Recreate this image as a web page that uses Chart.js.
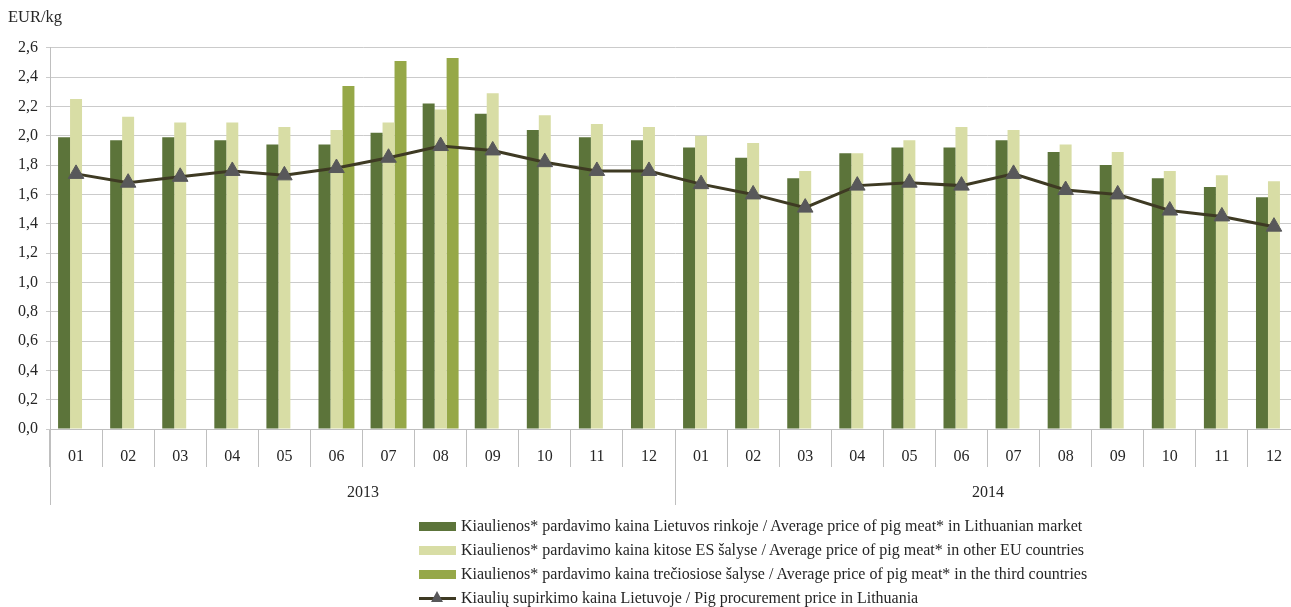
<!DOCTYPE html>
<html>
<head>
<meta charset="utf-8">
<script src="https://cdn.jsdelivr.net/npm/chart.js@4.4.1/dist/chart.umd.min.js"></script>
<style>
  body { margin: 0; overflow: hidden; background: #fff; }
  #wrap { position: relative; width: 1320px; height: 607px; }
  #legenda { position: absolute; left: 419px; top: 514px; font-family: "Liberation Serif", serif; font-size: 16px; color: #262626; }
  .item { height: 24px; line-height: 24px; white-space: nowrap; display: flex; align-items: center; }
  .box { display: inline-block; width: 37px; height: 9px; margin-right: 5px; }
  .lineIcon { position: relative; display: inline-block; width: 37px; height: 3px; margin-right: 5px; background: #3e3a23; }
  .lineIcon:after { content: ''; position: absolute; left: 12px; top: -6px; border-left: 6px solid transparent; border-right: 6px solid transparent; border-bottom: 11px solid #58585a; }
</style>
</head>
<body>
<div id="wrap">
  <canvas id="kainos"></canvas>
  <div id="legenda"></div>
</div>
<script>
const months = ['01', '02', '03', '04', '05', '06', '07', '08', '09', '10', '11', '12',
  '01', '02', '03', '04', '05', '06', '07', '08', '09', '10', '11', '12'];
const years = ['2013', '2014'];

const priceLithuania = [1.99, 1.97, 1.99, 1.97, 1.94, 1.94, 2.02, 2.22, 2.15, 2.04, 1.99, 1.97,
  1.92, 1.85, 1.71, 1.88, 1.92, 1.92, 1.97, 1.89, 1.80, 1.71, 1.65, 1.58];
const priceOtherEU = [2.25, 2.13, 2.09, 2.09, 2.06, 2.04, 2.09, 2.18, 2.29, 2.14, 2.08, 2.06,
  2.00, 1.95, 1.76, 1.88, 1.97, 2.06, 2.04, 1.94, 1.89, 1.76, 1.73, 1.69];
const priceThird = [null, null, null, null, null, 2.34, 2.51, 2.53, null, null, null, null,
  null, null, null, null, null, null, null, null, null, null, null, null];
const procurement = [1.74, 1.68, 1.72, 1.76, 1.73, 1.78, 1.85, 1.93, 1.90, 1.82, 1.76, 1.76,
  1.67, 1.60, 1.51, 1.66, 1.68, 1.66, 1.74, 1.63, 1.60, 1.49, 1.45, 1.38];

const seriesNames = [
  'Kiaulienos* pardavimo kaina Lietuvos rinkoje / Average price of pig meat* in Lithuanian market',
  'Kiaulienos* pardavimo kaina kitose ES šalyse / Average price of pig meat* in other EU countries',
  'Kiaulienos* pardavimo kaina trečiosiose šalyse / Average price of pig meat* in the third countries',
  'Kiaulių supirkimo kaina Lietuvoje / Pig procurement price in Lithuania'
];
const seriesColors = ['#5c743a', '#d8dda5', '#96a848', '#3e3a23'];

const fonte = { family: '"Liberation Serif", serif', size: 16 };
const cinza = '#bfbfbf';

// second level of the x axis: years with long separators
const yearAxis = {
  id: 'yearAxis',
  afterDraw(chart) {
    const x = chart.scales.x;
    const ctx = chart.ctx;
    const bottom = chart.chartArea.bottom;
    const half = (x.getPixelForValue(1) - x.getPixelForValue(0)) / 2;
    const perYear = months.length / years.length;
    ctx.save();
    ctx.strokeStyle = cinza;
    ctx.lineWidth = 1;
    ctx.fillStyle = '#262626';
    ctx.font = '16px "Liberation Serif", serif';
    ctx.textAlign = 'center';
    ctx.textBaseline = 'middle';
    years.forEach((ano, i) => {
      const start = Math.round(x.getPixelForValue(i * perYear) - half) + 0.5;
      const end = Math.round(x.getPixelForValue((i + 1) * perYear - 1) + half) + 0.5;
      [start, end].forEach(px => {
        ctx.beginPath();
        ctx.moveTo(px, bottom);
        ctx.lineTo(px, bottom + 76);
        ctx.stroke();
      });
      ctx.fillText(ano, (start + end) / 2, bottom + 64);
    });
    ctx.restore();
  }
};

const ctxKainos = document.getElementById('kainos').getContext('2d');
const kainosChart = new Chart(ctxKainos, {
  type: 'bar',
  data: {
    labels: months,
    datasets: [
      { label: seriesNames[0], data: priceLithuania, backgroundColor: seriesColors[0], order: 1 },
      { label: seriesNames[1], data: priceOtherEU, backgroundColor: seriesColors[1], order: 1 },
      { label: seriesNames[2], data: priceThird, backgroundColor: seriesColors[2], order: 1 },
      {
        type: 'line',
        label: seriesNames[3],
        data: procurement,
        borderColor: seriesColors[3],
        borderWidth: 3,
        tension: 0,
        pointStyle: 'triangle',
        pointRadius: 9,
        pointBackgroundColor: '#58585a',
        pointBorderColor: '#58585a',
        pointBorderWidth: 1,
        order: 0
      }
    ]
  },
  options: {
    responsive: true,
    maintainAspectRatio: false,
    animation: false,
    layout: { padding: { left: 8, right: 20, top: 0, bottom: 0 } },
    datasets: {
      bar: { categoryPercentage: 0.69, barPercentage: 1 }
    },
    scales: {
      x: {
        grid: { offset: true, drawOnChartArea: false, tickLength: 38, color: cinza },
        border: { color: cinza },
        ticks: { font: fonte, color: '#262626', padding: -20, maxRotation: 0, autoSkip: false },
        afterFit: function (scale) { scale.height = 178; }
      },
      y: {
        min: 0,
        max: 2.6,
        grid: { color: '#cbcbcb', tickLength: 4 },
        border: { color: cinza },
        ticks: {
          stepSize: 0.2,
          font: fonte,
          color: '#262626',
          padding: 8,
          callback: function (v) { return v.toFixed(1).replace('.', ','); }
        },
        afterFit: function (scale) { scale.width = 42; }
      }
    },
    plugins: {
      legend: { display: false },
      tooltip: { enabled: false },
      title: {
        display: true,
        text: 'EUR/kg',
        align: 'start',
        color: '#262626',
        font: { family: '"Liberation Serif", serif', size: 16.5, weight: 'normal' },
        padding: { top: 8, bottom: 20 }
      }
    }
  },
  plugins: [yearAxis]
});

// legend as html, one row per series, left aligned
const legenda = document.getElementById('legenda');
seriesNames.forEach((nome, i) => {
  const row = document.createElement('div');
  row.className = 'item';
  const icon = document.createElement('span');
  if (i === 3) {
    icon.className = 'lineIcon';
  } else {
    icon.className = 'box';
    icon.style.background = seriesColors[i];
  }
  row.appendChild(icon);
  const txt = document.createElement('span');
  txt.textContent = nome;
  row.appendChild(txt);
  legenda.appendChild(row);
});
</script>
</body>
</html>
